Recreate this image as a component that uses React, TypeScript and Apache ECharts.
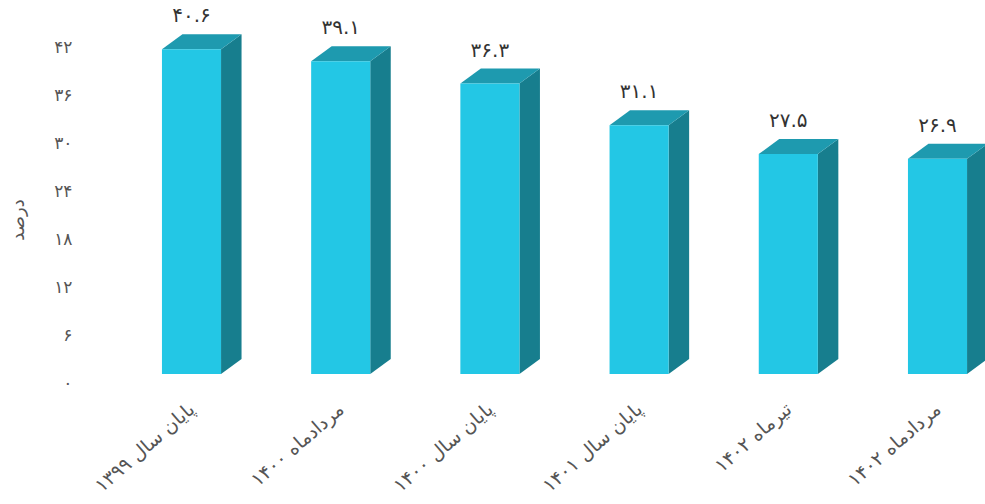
import React, { useEffect, useRef } from "react";
import * as echarts from "echarts";

const categories = [
  "پایان سال ۱۳۹۹",
  "مردادماه ۱۴۰۰",
  "پایان سال ۱۴۰۰",
  "پایان سال ۱۴۰۱",
  "تیرماه ۱۴۰۲",
  "مردادماه ۱۴۰۲",
];
const values = [40.6, 39.1, 36.3, 31.1, 27.5, 26.9];
const yMin = 0;
const yMax = 42;
const yInterval = 6;
const yAxisTitle = "درصد";

const faDigits = "۰۱۲۳۴۵۶۷۸۹";
const toPersian = (v: number | string) =>
  String(v).replace(/[0-9]/g, (d) => faDigits[Number(d)]);

const FONT = "DejaVu Sans";

export default function App() {
  const ref = useRef<HTMLDivElement>(null);
  useEffect(() => {
    document.body.style.margin = "0";
    const chart = echarts.init(ref.current!, null, { renderer: "svg" });
    const dx = 20.5;
    const dy = 15;
    chart.setOption({
      animation: false,
      grid: { left: 191.5, right: 47.5, top: 38, height: 336 },
      xAxis: {
        type: "category",
        data: categories,
        boundaryGap: false,
        axisLine: { show: false },
        axisTick: { show: false },
        axisLabel: {
          interval: 0,
          rotate: 41,
          margin: 32,
          fontSize: 19,
          color: "#555",
          fontFamily: FONT,
        },
      },
      yAxis: {
        type: "value",
        min: yMin,
        max: yMax,
        interval: yInterval,
        splitLine: { show: false },
        axisLine: { show: false },
        axisTick: { show: false },
        axisLabel: {
          margin: 119,
          fontSize: 17,
          color: "#555",
          fontFamily: FONT,
          verticalAlign: "top",
          lineHeight: 18,
          formatter: (v: number) => toPersian(v),
        },
      },
      graphic: [
        {
          type: "text",
          x: 17,
          y: 220,
          rotation: Math.PI / 2,
          style: {
            text: yAxisTitle,
            fontSize: 18,
            fill: "#555",
            fontFamily: FONT,
            align: "center",
            verticalAlign: "middle",
          },
        },
      ],
      series: [
        {
          type: "custom",
          data: values.map((v, i) => [i, v]),
          renderItem: (params: any, api: any) => {
            const idx = api.value(0);
            const val = api.value(1);
            const top = api.coord([idx, val]);
            const base = api.coord([idx, 0]);
            const band = api.size([1, 0])[0];
            const w = band * 0.396;
            const x0 = top[0] - w / 2;
            const x1 = x0 + w;
            const yT = top[1];
            const yB = base[1];
            return {
              type: "group",
              children: [
                {
                  type: "polygon",
                  shape: {
                    points: [
                      [x1, yT],
                      [x1 + dx, yT - dy],
                      [x1 + dx, yB - dy],
                      [x1, yB],
                    ],
                  },
                  style: { fill: "#177E8E" },
                },
                {
                  type: "polygon",
                  shape: {
                    points: [
                      [x0, yT],
                      [x0 + dx, yT - dy],
                      [x1 + dx, yT - dy],
                      [x1, yT],
                    ],
                  },
                  style: { fill: "#1E9AAF" },
                },
                {
                  type: "rect",
                  shape: { x: x0, y: yT, width: w, height: yB - yT },
                  style: { fill: "#23C7E5" },
                },
                {
                  type: "text",
                  x: top[0],
                  y: yT - 34,
                  style: {
                    text: toPersian(val),
                    fontSize: 20,
                    fill: "#333",
                    fontFamily: FONT,
                    align: "center",
                    verticalAlign: "middle",
                  },
                },
              ],
            };
          },
        },
      ],
    });
    return () => chart.dispose();
  }, []);
  return <div ref={ref} style={{ width: 985, height: 504 }} />;
}
